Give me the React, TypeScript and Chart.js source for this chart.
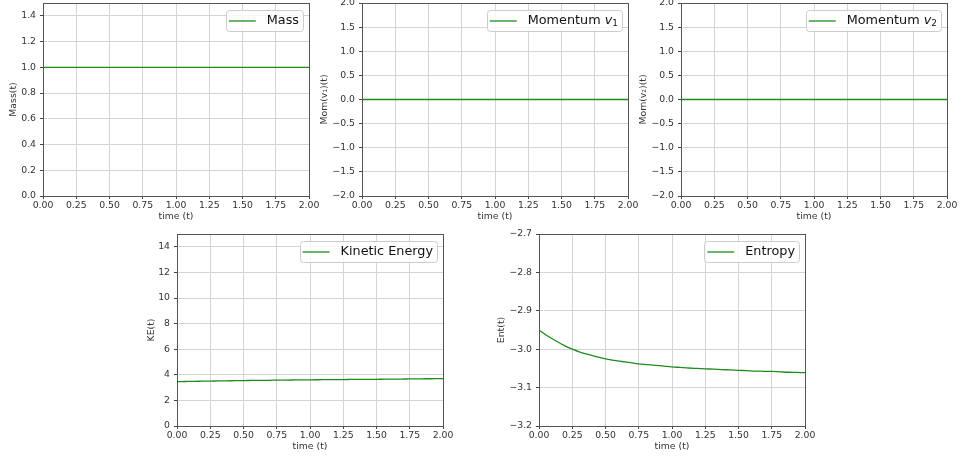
import { useEffect, useRef } from 'react';
import { Chart, registerables } from 'chart.js';

Chart.register(...registerables);

// Sample times (t) shared by every panel
const timeValues = [
  0, 0.0625, 0.125, 0.1875, 0.25, 0.3125, 0.375, 0.4375, 0.5, 0.5625, 0.625, 0.6875, 0.75, 0.8125, 0.875, 0.9375,
  1, 1.0625, 1.125, 1.1875, 1.25, 1.3125, 1.375, 1.4375, 1.5, 1.5625, 1.625, 1.6875, 1.75, 1.8125, 1.875, 1.9375, 2,
];

// Conserved / monitored quantities over time
const massValues = [
  1, 1, 1, 1, 1, 1, 1, 1, 1, 1, 1, 1, 1, 1, 1, 1, 1, 1, 1, 1, 1, 1, 1, 1, 1, 1, 1, 1, 1, 1, 1, 1, 1,
];
const momentumV1Values = [
  0, 0, 0, 0, 0, 0, 0, 0, 0, 0, 0, 0, 0, 0, 0, 0, 0, 0, 0, 0, 0, 0, 0, 0, 0, 0, 0, 0, 0, 0, 0, 0, 0,
];
const momentumV2Values = [
  0, 0, 0, 0, 0, 0, 0, 0, 0, 0, 0, 0, 0, 0, 0, 0, 0, 0, 0, 0, 0, 0, 0, 0, 0, 0, 0, 0, 0, 0, 0, 0, 0,
];
const kineticEnergyValues = [
  3.46, 3.475, 3.49, 3.5, 3.51, 3.52, 3.53, 3.54, 3.55, 3.557, 3.565, 3.572, 3.58, 3.588, 3.595, 3.602,
  3.61, 3.615, 3.62, 3.625, 3.63, 3.635, 3.64, 3.645, 3.65, 3.655, 3.66, 3.667, 3.675, 3.682, 3.69, 3.695, 3.7,
];
const entropyValues = [
  -2.95, -2.965, -2.978, -2.99, -3.0, -3.008, -3.014, -3.02, -3.025, -3.029, -3.032, -3.035, -3.038, -3.04, -3.042, -3.044,
  -3.046, -3.0475, -3.049, -3.05, -3.051, -3.052, -3.053, -3.054, -3.055, -3.056, -3.057, -3.0575, -3.058, -3.059, -3.06, -3.0605, -3.061,
];

// Tick positions
const timeTicks = [0, 0.25, 0.5, 0.75, 1, 1.25, 1.5, 1.75, 2];
const massTicks = [0, 0.2, 0.4, 0.6, 0.8, 1.0, 1.2, 1.4];
const momentumTicks = [-2, -1.5, -1, -0.5, 0, 0.5, 1, 1.5, 2];
const kineticEnergyTicks = [0, 2, 4, 6, 8, 10, 12, 14];
const entropyTicks = [-3.2, -3.1, -3.0, -2.9, -2.8, -2.7];

const FONT = '"DejaVu Sans", sans-serif';
const LINE = '#1e8c1e';
const GRID = '#d4d4d4';
const SPINE = '#555555';
const TEXT = '#333333';
const TICK_SIZE = 9.3;
const LEGEND_SIZE = 12.8;
const X_AXIS_H = 26;
const PAD_TOP = 12;
const PAD_RIGHT = 20;

type Part = { text: string; italic?: boolean; sub?: boolean };

type Panel = {
  key: string;
  values: number[];
  yTicks: number[];
  yMin: number;
  yMax: number;
  yDecimals: number;
  yTitle: string;
  legend: Part[];
  // plot-area box in page pixels and centre of the y title
  left: number;
  right: number;
  top: number;
  bottom: number;
  yTitleX: number;
};

const panels: Panel[] = [
  {
    key: 'mass', values: massValues, yTicks: massTicks, yMin: 0, yMax: 1.5, yDecimals: 1,
    yTitle: 'Mass(t)', legend: [{ text: 'Mass' }],
    left: 43, right: 309, top: 3, bottom: 196, yTitleX: 14,
  },
  {
    key: 'mom1', values: momentumV1Values, yTicks: momentumTicks, yMin: -2, yMax: 2, yDecimals: 1,
    yTitle: 'Mom(v\u2081)(t)', legend: [{ text: 'Momentum ' }, { text: 'v', italic: true }, { text: '1', sub: true }],
    left: 362, right: 628, top: 3, bottom: 196, yTitleX: 325,
  },
  {
    key: 'mom2', values: momentumV2Values, yTicks: momentumTicks, yMin: -2, yMax: 2, yDecimals: 1,
    yTitle: 'Mom(v\u2082)(t)', legend: [{ text: 'Momentum ' }, { text: 'v', italic: true }, { text: '2', sub: true }],
    left: 681, right: 947, top: 3, bottom: 196, yTitleX: 644,
  },
  {
    key: 'ke', values: kineticEnergyValues, yTicks: kineticEnergyTicks, yMin: 0, yMax: 15, yDecimals: 0,
    yTitle: 'KE(t)', legend: [{ text: 'Kinetic Energy' }],
    left: 177, right: 443, top: 234, bottom: 426, yTitleX: 152,
  },
  {
    key: 'ent', values: entropyValues, yTicks: entropyTicks, yMin: -3.2, yMax: -2.7, yDecimals: 1,
    yTitle: 'Ent(t)', legend: [{ text: 'Entropy' }],
    left: 539, right: 805, top: 234, bottom: 426, yTitleX: 502,
  },
];

function fmt(v: number, decimals: number): string {
  const s = Math.abs(v).toFixed(decimals);
  return v < -1e-9 ? '\u2212' + s : s;
}

function partFont(p: Part): string {
  const size = p.sub ? LEGEND_SIZE * 0.7 : LEGEND_SIZE;
  return `${p.italic ? 'italic ' : ''}${size}px ${FONT}`;
}

const align = (v: number) => Math.round(v - 0.5) + 0.5;

// Draws the four-sided frame and the boxed legend in the upper-right corner
const decorPlugin = {
  id: 'panelDecor',
  afterDatasetsDraw(chart: any) {
    const { ctx, chartArea: a } = chart;
    ctx.save();
    ctx.strokeStyle = SPINE;
    ctx.lineWidth = 1;
    const l = align(a.left), r = align(a.right), t = align(a.top), b = align(a.bottom);
    ctx.strokeRect(l, t, r - l, b - t);
    ctx.restore();
  },
  afterDraw(chart: any, _args: any, opts: any) {
    const parts: Part[] = opts.parts || [];
    const { ctx, chartArea: a } = chart;
    ctx.save();
    let textW = 0;
    for (const p of parts) {
      ctx.font = partFont(p);
      textW += ctx.measureText(p.text).width;
    }
    const boxW = 3 + 27 + 11 + textW + 4;
    const boxH = 21;
    const x0 = a.right - 6 - boxW;
    const y0 = a.top + 7;
    ctx.beginPath();
    ctx.roundRect(Math.round(x0) + 0.5, Math.round(y0) + 0.5, Math.round(boxW), boxH, 3);
    ctx.fillStyle = 'rgba(255,255,255,0.8)';
    ctx.fill();
    ctx.strokeStyle = '#cccccc';
    ctx.lineWidth = 1;
    ctx.stroke();
    const cy = Math.round(y0) + 0.5 + boxH / 2;
    ctx.beginPath();
    ctx.moveTo(x0 + 3, cy);
    ctx.lineTo(x0 + 30, cy);
    ctx.strokeStyle = LINE;
    ctx.lineWidth = 1.3;
    ctx.stroke();
    let x = x0 + 41;
    ctx.fillStyle = '#111111';
    ctx.textBaseline = 'middle';
    ctx.textAlign = 'left';
    for (const p of parts) {
      ctx.font = partFont(p);
      ctx.fillText(p.text, x, cy + (p.sub ? 3 : 0));
      x += ctx.measureText(p.text).width;
    }
    ctx.restore();
  },
};

function PanelChart({ spec }: { spec: Panel }) {
  const ref = useRef<HTMLCanvasElement>(null);
  const titleHalf = (TICK_SIZE * 1.2) / 2;
  const containerLeft = Math.round(spec.yTitleX - titleHalf);
  const yAxisW = spec.left - containerLeft;
  const width = yAxisW + (spec.right - spec.left) + PAD_RIGHT;
  const height = PAD_TOP + (spec.bottom - spec.top) + X_AXIS_H;

  useEffect(() => {
    if (!ref.current) return;
    const tickFont = { family: FONT, size: TICK_SIZE };
    const chart = new Chart(ref.current, {
      type: 'line',
      data: {
        datasets: [
          {
            data: timeValues.map((t, i) => ({ x: t, y: spec.values[i] })),
            borderColor: LINE,
            borderWidth: 1.3,
            pointRadius: 0,
            cubicInterpolationMode: 'monotone',
            fill: false,
          },
        ],
      },
      options: {
        animation: false,
        responsive: false,
        devicePixelRatio: 1,
        layout: { padding: { left: 0, top: PAD_TOP, right: PAD_RIGHT, bottom: 0 } },
        plugins: {
          legend: { display: false },
          tooltip: { enabled: false },
          panelDecor: { parts: spec.legend },
        } as any,
        scales: {
          x: {
            type: 'linear',
            min: 0,
            max: 2,
            afterBuildTicks: (s: any) => {
              s.ticks = timeTicks.map((v) => ({ value: v }));
            },
            afterFit: (s: any) => {
              s.height = X_AXIS_H;
            },
            ticks: {
              callback: (v: any) => fmt(Number(v), 2),
              font: tickFont,
              color: TEXT,
              padding: 1,
              maxRotation: 0,
              autoSkip: false,
            },
            grid: { color: GRID, tickColor: '#444444', tickLength: 3, drawTicks: true },
            border: { display: false },
            title: { display: true, text: 'time (t)', font: tickFont, color: TEXT, padding: 0 },
          },
          y: {
            type: 'linear',
            min: spec.yMin,
            max: spec.yMax,
            afterBuildTicks: (s: any) => {
              s.ticks = spec.yTicks.map((v) => ({ value: v }));
            },
            afterFit: (s: any) => {
              s.width = yAxisW;
            },
            ticks: {
              callback: (v: any) => fmt(Number(v), spec.yDecimals),
              font: tickFont,
              color: TEXT,
              padding: 4,
              autoSkip: false,
            },
            grid: { color: GRID, tickColor: '#444444', tickLength: 3, drawTicks: true },
            border: { display: false },
            title: { display: true, text: spec.yTitle, font: tickFont, color: TEXT, padding: 0 },
          },
        },
      } as any,
      plugins: [decorPlugin],
    });
    return () => chart.destroy();
  }, [spec, yAxisW]);

  return (
    <canvas
      ref={ref}
      width={width}
      height={height}
      style={{
        position: 'absolute',
        left: containerLeft,
        top: spec.top - PAD_TOP,
        width,
        height,
      }}
    />
  );
}

export default function App() {
  return (
    <div
      style={{
        position: 'fixed',
        left: 0,
        top: 0,
        width: 959,
        height: 457,
        background: '#ffffff',
        overflow: 'hidden',
      }}
    >
      {panels.map((p) => (
        <PanelChart key={p.key} spec={p} />
      ))}
    </div>
  );
}
